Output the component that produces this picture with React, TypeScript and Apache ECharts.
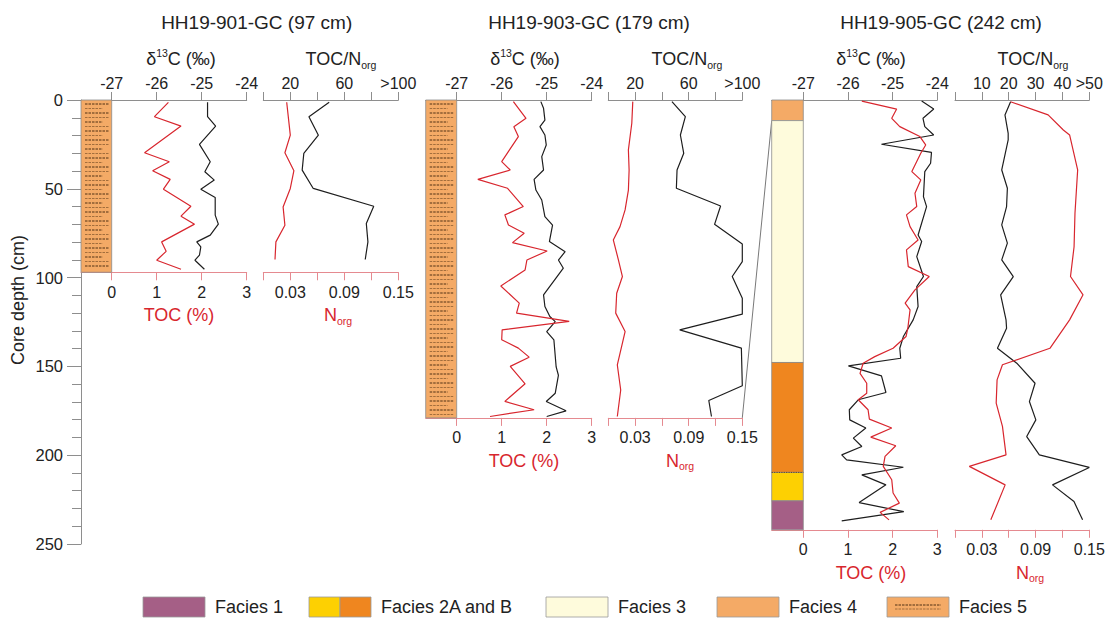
import React, { useEffect, useRef } from "react";
import * as echarts from "echarts";

const FONT = "'Liberation Sans', Arial, Helvetica, sans-serif";

// ---------------- DATA ----------------
const coreNames = ["HH19-901-GC", "HH19-903-GC", "HH19-905-GC"];
const coreLengths = [97, 179, 242];

// HH19-901-GC
const p1D13cDepth = [1.3, 9.4, 14.7, 25.0, 34.8, 40.4, 45.1, 50.2, 54.9, 64.8, 69.9, 76.1, 79.9, 82.7, 87.4, 90.2, 95.3];
const p1D13c = [-24.87, -24.87, -24.69, -25.05, -24.81, -24.93, -24.72, -25.02, -24.70, -24.70, -24.63, -24.81, -25.11, -25.02, -25.05, -25.15, -24.94];
const p1TocDepth = [1.3, 9.4, 14.7, 29.7, 34.8, 39.8, 44.7, 50.2, 59.8, 65.4, 69.9, 79.9, 85.2, 90.2, 95.3];
const p1Toc = [1.26, 0.95, 1.54, 0.73, 1.28, 0.91, 1.30, 1.15, 1.76, 1.54, 1.84, 1.11, 1.21, 1.00, 1.54];
const p1CnDepth = [1.3, 9.4, 19.8, 30.1, 39.5, 49.8, 59.8, 69.5, 79.9, 89.8];
const p1Cn = [48.8, 33.8, 40.8, 30.0, 28.8, 37.0, 81.8, 76.3, 77.5, 75.5];
const p1NorgDepth = [1.3, 19.8, 29.7, 39.8, 49.8, 60.2, 70.5, 79.9, 89.8];
const p1Norg = [0.026, 0.030, 0.024, 0.034, 0.030, 0.022, 0.024, 0.014, 0.013];

// HH19-903-GC
const p2D13cDepth = [0.9, 4.7, 11.3, 15.0, 19.7, 25.3, 31.9, 39.4, 44.7, 50.7, 56.3, 65.7, 70.4, 79.7, 85.4, 90.1, 94.7, 109.7, 116.3, 121.9, 124.8, 130.4, 135.1, 150.3, 155.0, 165.1, 169.8, 175.0, 178.2];
const p2D13c = [-25.13, -25.07, -25.04, -25.15, -25.04, -25.01, -25.11, -25.07, -25.28, -25.24, -25.11, -25.04, -24.87, -24.94, -24.59, -24.74, -24.63, -25.07, -25.04, -24.93, -24.81, -25.00, -24.84, -24.79, -24.74, -24.81, -25.01, -24.57, -25.00];
const p2TocDepth = [0.9, 10.3, 15.0, 20.6, 34.7, 39.4, 44.7, 49.7, 60.0, 64.7, 70.4, 75.0, 80.3, 85.0, 90.1, 95.7, 104.7, 114.4, 120.0, 124.7, 129.4, 135.0, 139.7, 144.8, 150.0, 159.8, 169.7, 174.4, 178.2];
const p2Toc = [1.26, 1.54, 1.27, 1.37, 1.00, 1.19, 0.47, 1.13, 1.48, 1.07, 1.15, 1.50, 1.24, 2.01, 1.56, 1.52, 0.98, 1.39, 1.33, 2.50, 1.01, 1.00, 1.37, 1.61, 1.19, 1.52, 1.07, 1.72, 0.74];
const p2CnDepth = [0.9, 9.4, 19.7, 30.0, 39.4, 49.7, 59.7, 70.0, 81.1, 91.0, 99.4, 111.6, 120.6, 129.4, 139.7, 160.9, 169.2, 178.2];
const p2Cn = [47.5, 57.5, 53.8, 56.3, 51.3, 50.8, 83.8, 79.3, 100, 100, 92.5, 100, 100, 53.3, 99.3, 100, 75.0, 77.0];
const p2NorgDepth = [0.9, 13.1, 28.1, 39.4, 50.7, 61.9, 71.3, 78.8, 90.0, 99.4, 108.8, 120.0, 130.4, 149.2, 163.3, 178.2];
const p2Norg = [0.0274, 0.0263, 0.0225, 0.0233, 0.0225, 0.0188, 0.0131, 0.0056, 0.0113, 0.0158, 0.0094, 0.0083, 0.0188, 0.0101, 0.0139, 0.0101];

// HH19-905-GC
const p3D13cDepth = [0.6, 5.1, 10.3, 15.0, 19.7, 24.9, 29.5, 35.6, 40.3, 54.4, 60.0, 76.0, 79.7, 88.2, 99.4, 105.1, 116.3, 123.8, 133.2, 139.8, 145.4, 149.7, 155.3, 164.7, 168.8, 174.4, 180.1, 184.7, 190.4, 195.1, 199.8, 202.6, 206.8, 211.1, 216.7, 226.7, 231.8, 237.0];
const p3D13c = [-24.35, -24.08, -24.32, -24.28, -24.08, -25.25, -24.13, -24.15, -24.28, -24.31, -24.24, -24.43, -24.35, -24.46, -24.31, -24.46, -24.43, -24.54, -24.76, -24.84, -24.82, -25.99, -25.25, -25.15, -25.77, -25.97, -25.96, -25.60, -25.88, -25.69, -26.14, -26.03, -24.76, -25.69, -25.15, -25.75, -24.75, -26.14];
const p3TocDepth = [0.6, 5.1, 10.3, 15.0, 20.6, 25.3, 30.0, 40.3, 45.0, 52.5, 60.0, 64.7, 71.3, 78.8, 84.4, 93.8, 99.4, 106.9, 114.4, 118.2, 128.5, 133.2, 139.8, 144.5, 148.2, 153.9, 159.5, 165.1, 168.8, 174.4, 179.7, 184.7, 189.8, 194.7, 200.7, 206.3, 213.8, 221.3, 227.0, 232.2, 236.4];
const p3Toc = [1.31, 2.09, 1.98, 2.16, 2.61, 2.74, 2.63, 2.43, 2.63, 2.50, 2.54, 2.31, 2.39, 2.57, 2.31, 2.35, 2.82, 2.50, 2.28, 2.39, 2.34, 2.30, 2.01, 1.60, 1.34, 1.27, 1.42, 1.42, 1.23, 1.45, 1.48, 1.98, 1.51, 2.07, 1.83, 1.79, 1.98, 2.01, 2.15, 1.72, 1.92];
const p3CnDepth = [1.0, 8.4, 18.8, 22.5, 39.4, 49.7, 60.0, 70.3, 80.6, 90.0, 99.4, 109.7, 123.8, 128.5, 139.8, 148.2, 159.5, 169.8, 180.1, 189.5, 199.8, 206.9, 216.7, 226.1, 236.4];
const p3Cn = [20.7, 18.6, 19.8, 19.8, 17.4, 19.5, 19.2, 17.4, 19.5, 17.4, 21.7, 17.0, 19.0, 19.2, 15.8, 23.0, 29.8, 27.7, 30.1, 26.7, 31.4, 50.0, 36.3, 44.3, 47.5];
const p3NorgDepth = [1.0, 8.4, 16.9, 19.7, 39.4, 63.8, 82.6, 99.4, 109.7, 123.8, 139.8, 149.1, 157.6, 170.7, 183.8, 199.8, 206.3, 216.7, 236.4];
const p3Norg = [0.062, 0.104, 0.121, 0.128, 0.137, 0.134, 0.133, 0.129, 0.143, 0.128, 0.106, 0.053, 0.047, 0.046, 0.053, 0.057, 0.016, 0.056, 0.040];

// Lithology (facies intervals, cm)
const p1FaciesTop = [0];
const p1FaciesBottom = [97];
const p1Facies = ["F5"];
const p2FaciesTop = [0];
const p2FaciesBottom = [179];
const p2Facies = ["F5"];
const p3FaciesTop = [0, 11.6, 147.8, 209.7, 225.7];
const p3FaciesBottom = [11.6, 147.8, 209.7, 225.7, 242];
const p3Facies = ["F4", "F3", "F2B", "F2A", "F1"];

// Correlation line: bottom of 903 -> top of facies 3 in 905
const corrFromDepth = 179;
const corrToDepth = 11.6;

// Axis settings
const depthMax = 250;
const depthInterval = 50;
const d13cRange = [-27, -24];
const tocRange = [0, 3];
const cnMax = [100, 100, 50];
const cnInterval = [20, 20, 10];
const cnLabelValues = [[20, 60, 100], [20, 60, 100], [10, 20, 30, 40, 50]];
const norgMax = 0.15;
const norgInterval = 0.03;
const norgLabelValues = [0.03, 0.09, 0.15];

const faciesKeys = ["F1", "F2A", "F2B", "F3", "F4", "F5"];
const legendLabels = ["Facies 1", "Facies 2A and B", "Facies 3", "Facies 4", "Facies 5"];

// ---------------- STYLE / LAYOUT ----------------
const faciesColor: Record<string, string> = {
  F1: "#a55f86",
  F2A: "#fdd002",
  F2B: "#ef861f",
  F3: "#fefbdc",
  F4: "#f4aa66",
  F5: "#f4aa66",
};
const GREY = "#8e8e8e";
const PINK = "#e58a90";
const RED = "#d8262e";
const BLACK = "#1e1e1e";
const TEXT = "#222222";

const TOP = 100;
const PX_PER_CM = 444 / 250;
const layout = [
  { lithoL: 81, dataL: 111.7, dataW: 135, ratioL: 263.3, ratioW: 135, title: 256.7, dTitle: 181, cnTitle: 341, tocTitle: 179, nTitle: 338 },
  { lithoL: 425.7, dataL: 456.7, dataW: 135, ratioL: 608.3, ratioW: 134, title: 589, dTitle: 525, cnTitle: 687, tocTitle: 524, nTitle: 680 },
  { lithoL: 771.7, dataL: 803.3, dataW: 134, ratioL: 955, ratioW: 134.3, title: 941, dTitle: 871, cnTitle: 1033, tocTitle: 871, nTitle: 1030 },
];

const panelData = [
  { d13c: [p1D13c, p1D13cDepth], toc: [p1Toc, p1TocDepth], cn: [p1Cn, p1CnDepth], norg: [p1Norg, p1NorgDepth], facies: [p1FaciesTop, p1FaciesBottom, p1Facies] },
  { d13c: [p2D13c, p2D13cDepth], toc: [p2Toc, p2TocDepth], cn: [p2Cn, p2CnDepth], norg: [p2Norg, p2NorgDepth], facies: [p2FaciesTop, p2FaciesBottom, p2Facies] },
  { d13c: [p3D13c, p3D13cDepth], toc: [p3Toc, p3TocDepth], cn: [p3Cn, p3CnDepth], norg: [p3Norg, p3NorgDepth], facies: [p3FaciesTop, p3FaciesBottom, p3Facies] },
];

const pairs = (xs: number[], ys: number[]) => xs.map((x, i) => [x, ys[i]]);

const renderLitho = (params: any, api: any) => {
  const top = api.value(0);
  const bot = api.value(1);
  const key = faciesKeys[api.value(2)];
  const a = api.coord([0, top]);
  const b = api.coord([1, bot]);
  const x = a[0], y = a[1], w = b[0] - a[0], h = b[1] - a[1];
  const children: any[] = [
    { type: "rect", shape: { x, y, width: w, height: h }, style: { fill: faciesColor[key], stroke: "#8a8a8a", lineWidth: 0.8 } },
  ];
  if (key === "F5") {
    let k = 0;
    for (let yy = y + 4; yy < y + h - 2; yy += 4.5, k++) {
      const shortEnd = k % 3 === 1 ? 9 : 3;
      children.push({
        type: "line",
        shape: { x1: x + 4, y1: yy, x2: x + w - shortEnd, y2: yy },
        style: { stroke: k % 2 ? "#9a6838" : "#3f250c", lineWidth: 0.9, lineDash: [2.5, 1] },
      });
    }
  }
  if (key === "F2A") {
    children.push({ type: "line", shape: { x1: x, y1: y, x2: x + w, y2: y }, style: { stroke: "#5a4020", lineWidth: 0.9, lineDash: [1.2, 1.2] } });
  }
  return { type: "group", children };
};

const tx = (x: number, y: number, text: string, extra: any = {}) => ({
  type: "text",
  x,
  y,
  silent: true,
  z: 100,
  style: {
    text,
    fill: TEXT,
    fontSize: 16,
    fontFamily: FONT,
    align: "center",
    verticalAlign: "middle",
    ...extra,
  },
});

export default function App() {
  const ref = useRef<HTMLDivElement>(null);

  useEffect(() => {
    const chart = echarts.init(ref.current!, null, { renderer: "svg" });

    const grids: any[] = [{ left: 81, top: TOP, width: 30, height: depthMax * PX_PER_CM, outerBoundsMode: "none" }];
    const xAxes: any[] = [{ gridIndex: 0, type: "value", show: false, min: 0, max: 1 }];
    const yAxes: any[] = [
      {
        gridIndex: 0,
        type: "value",
        min: 0,
        max: depthMax,
        interval: depthInterval,
        inverse: true,
        position: "left",
        axisLine: { show: true, onZero: false, lineStyle: { color: GREY, width: 1 } },
        axisTick: { show: true, length: 14, lineStyle: { color: GREY, width: 1 } },
        minorTick: { show: true, splitNumber: 5, length: 9, lineStyle: { color: GREY, width: 1 } },
        axisLabel: { fontSize: 16.5, color: TEXT, margin: 18, fontFamily: FONT, showMinLabel: true, showMaxLabel: true },
        splitLine: { show: false },
        minorSplitLine: { show: false },
      },
    ];
    const series: any[] = [
      { type: "line", xAxisIndex: 0, yAxisIndex: 0, data: [], silent: true },
    ];
    const graphics: any[] = [];

    const topAxisBase = (gridIndex: number, extra: any) => ({
      gridIndex,
      type: "value",
      position: "top",
      axisLine: { show: true, onZero: false, lineStyle: { color: GREY, width: 1 } },
      axisTick: { show: true, inside: false, length: 8, lineStyle: { color: GREY, width: 1 } },
      axisLabel: { fontSize: 16, color: TEXT, margin: 9, fontFamily: FONT, showMinLabel: true, showMaxLabel: true },
      splitLine: { show: false },
      ...extra,
    });
    const bottomAxisBase = (gridIndex: number, extra: any) => ({
      gridIndex,
      type: "value",
      position: "bottom",
      axisLine: { show: true, onZero: false, lineStyle: { color: PINK, width: 1 } },
      axisTick: { show: true, inside: false, length: 8, lineStyle: { color: PINK, width: 1 } },
      axisLabel: { fontSize: 16, color: TEXT, margin: 12, fontFamily: FONT, showMinLabel: true, showMaxLabel: true },
      splitLine: { show: false },
      ...extra,
    });

    const axisIdx: any[] = [];

    layout.forEach((L, p) => {
      const D = coreLengths[p];
      const h = D * PX_PER_CM;
      const gLitho = grids.length;
      grids.push({ left: L.lithoL, top: TOP, width: L.dataL - L.lithoL, height: h, outerBoundsMode: "none" });
      const gData = grids.length;
      grids.push({ left: L.dataL, top: TOP, width: L.dataW, height: h, outerBoundsMode: "none" });
      const gRatio = grids.length;
      grids.push({ left: L.ratioL, top: TOP, width: L.ratioW, height: h, outerBoundsMode: "none" });

      const xb = xAxes.length;
      xAxes.push(topAxisBase(gLitho, { min: 0, max: 1, axisTick: { show: false }, axisLabel: { show: false } }));
      xAxes.push(bottomAxisBase(gLitho, { min: 0, max: 1, axisTick: { show: false }, axisLabel: { show: false } }));
      xAxes.push(topAxisBase(gData, { min: d13cRange[0], max: d13cRange[1], interval: 1 }));
      xAxes.push(bottomAxisBase(gData, { min: tocRange[0], max: tocRange[1], interval: 1 }));
      const cnLabels = cnLabelValues[p];
      const cnTop = cnMax[p];
      xAxes.push(
        topAxisBase(gRatio, {
          min: 0,
          max: cnTop,
          interval: cnInterval[p],
          axisLabel: {
            fontSize: 16, color: TEXT, margin: 9, fontFamily: FONT, showMinLabel: true, showMaxLabel: true,
            formatter: (v: number) => {
              const r = Math.round(v);
              if (cnLabels.indexOf(r) < 0) return "";
              return r === cnTop ? ">" + r : String(r);
            },
          },
        })
      );
      xAxes.push(
        bottomAxisBase(gRatio, {
          min: 0,
          max: norgMax,
          interval: norgInterval,
          axisLabel: {
            fontSize: 16, color: TEXT, margin: 12, fontFamily: FONT, showMinLabel: true, showMaxLabel: true,
            formatter: (v: number) => {
              const r = Math.round(v * 1000) / 1000;
              return norgLabelValues.indexOf(r) >= 0 ? r.toFixed(2) : "";
            },
          },
        })
      );

      const yb = yAxes.length;
      [gLitho, gData, gRatio].forEach((g) =>
        yAxes.push({ gridIndex: g, type: "value", min: 0, max: D, inverse: true, show: false })
      );
      axisIdx.push({ xb, yb });

      const pd = panelData[p];
      const [fTop, fBot, fKey] = pd.facies as any;
      series.push({
        type: "custom",
        xAxisIndex: xb,
        yAxisIndex: yb,
        renderItem: renderLitho,
        data: (fTop as number[]).map((t, i) => [t, fBot[i], faciesKeys.indexOf(fKey[i])]),
        silent: true,
        z: 1,
      });
      const lineSeries = (xi: number, yi: number, vals: number[], deps: number[], color: string) => ({
        type: "line",
        xAxisIndex: xi,
        yAxisIndex: yi,
        data: pairs(vals, deps),
        symbol: "none",
        silent: true,
        lineStyle: { color, width: 1.2 },
        z: 3,
      });
      series.push(lineSeries(xb + 2, yb + 1, pd.d13c[0], pd.d13c[1], BLACK));
      series.push(lineSeries(xb + 3, yb + 1, pd.toc[0], pd.toc[1], RED));
      series.push(lineSeries(xb + 4, yb + 2, pd.cn[0], pd.cn[1], BLACK));
      series.push(lineSeries(xb + 5, yb + 2, pd.norg[0], pd.norg[1], RED));

      // texts
      const bottomY = TOP + h;
      graphics.push(tx(L.title, 22, `${coreNames[p]} (${coreLengths[p]} cm)`, { fontSize: 19 }));
      graphics.push(
        tx(L.dTitle, 59, "{m|δ}{s|13}{m|C (‰)}", {
          rich: {
            m: { fontSize: 18, fontFamily: FONT, fill: TEXT, lineHeight: 24 },
            s: { fontSize: 10.5, fontFamily: FONT, fill: TEXT, lineHeight: 12, verticalAlign: "top" },
          },
        })
      );
      graphics.push(
        tx(L.cnTitle, 59, "{m|TOC/N}{s|org}", {
          rich: {
            m: { fontSize: 18, fontFamily: FONT, fill: TEXT, lineHeight: 22 },
            s: { fontSize: 10.5, fontFamily: FONT, fill: TEXT, lineHeight: 10, verticalAlign: "bottom" },
          },
        })
      );
      graphics.push(tx(L.tocTitle, bottomY + 43, "TOC (%)", { fontSize: 18, fill: RED }));
      graphics.push(
        tx(L.nTitle, bottomY + 43, "{m|N}{s|org}", {
          rich: {
            m: { fontSize: 18, fontFamily: FONT, fill: RED, lineHeight: 22 },
            s: { fontSize: 10.5, fontFamily: FONT, fill: RED, lineHeight: 10, verticalAlign: "bottom" },
          },
        })
      );
    });

    // depth axis name
    graphics.push({
      type: "text",
      x: 18,
      y: 300,
      rotation: Math.PI / 2,
      silent: true,
      style: { text: "Core depth (cm)", fill: TEXT, fontSize: 18, fontFamily: FONT, align: "center", verticalAlign: "middle" },
    });

    // legend
    const legendY = 597;
    const boxW = 62, boxH = 20;
    const legendBoxX = [143, 309, 546, 717, 887];
    const legendKeys = [["F1"], ["F2A", "F2B"], ["F3"], ["F4"], ["F5"]];
    legendLabels.forEach((lab, i) => {
      const bx = legendBoxX[i];
      const keys = legendKeys[i];
      const segW = boxW / keys.length;
      keys.forEach((k, j) => {
        graphics.push({
          type: "rect",
          silent: true,
          shape: { x: bx + j * segW, y: legendY, width: segW, height: boxH },
          style: { fill: faciesColor[k], stroke: "#9a9a9a", lineWidth: 0.8 },
        });
      });
      if (keys[0] === "F5") {
        [legendY + 8, legendY + 12].forEach((yy, j) =>
          graphics.push({
            type: "line",
            silent: true,
            shape: { x1: bx + 8, y1: yy, x2: bx + boxW - 8, y2: yy },
            style: { stroke: j ? "#9a6838" : "#3f250c", lineWidth: 0.9, lineDash: [2.5, 1] },
          })
        );
      }
      graphics.push(tx(bx + boxW + 10, legendY + boxH / 2, lab, { fontSize: 18, align: "left" }));
    });

    const option: any = {
      animation: false,
      backgroundColor: "#ffffff",
      grid: grids,
      xAxis: xAxes,
      yAxis: yAxes,
      series,
      graphic: graphics,
    };
    chart.setOption(option);

    // correlation line between HH19-903-GC base and HH19-905-GC facies 3 top
    const a2 = axisIdx[1];
    const a3 = axisIdx[2];
    const pA = chart.convertToPixel({ xAxisIndex: a2.xb + 4, yAxisIndex: a2.yb + 2 } as any, [cnMax[1], corrFromDepth]) as any;
    const pB = chart.convertToPixel({ xAxisIndex: a3.xb, yAxisIndex: a3.yb } as any, [0, corrToDepth]) as any;
    if (pA && pB) {
      chart.setOption({
        graphic: [
          ...graphics,
          {
            type: "line",
            silent: true,
            shape: { x1: pA[0], y1: pA[1], x2: pB[0], y2: pB[1] },
            style: { stroke: "#555", lineWidth: 0.8 },
          },
        ],
      });
    }

    return () => chart.dispose();
  }, []);

  return (
    <div
      ref={ref}
      style={{ position: "fixed", left: 0, top: 0, width: 1111, height: 619, background: "#fff" }}
    />
  );
}
